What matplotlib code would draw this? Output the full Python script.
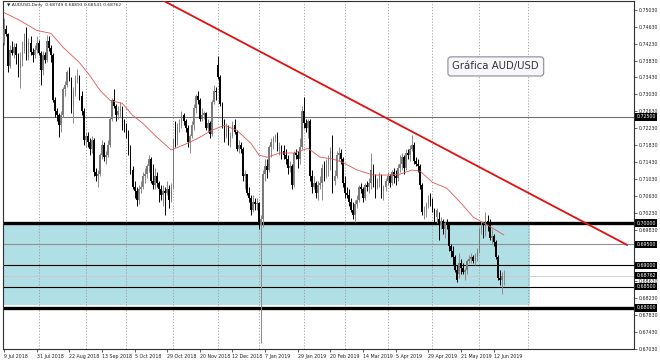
import numpy as np
import matplotlib
matplotlib.use("Agg")
import matplotlib.pyplot as plt
from matplotlib.patches import Rectangle
from matplotlib.transforms import blended_transform_factory

# AUD/USD daily candles, 9 Jul 2018 .. 19 Jun 2019, prices in 1e-4 units
opens = [
    7425, 7458, 7445, 7370, 7408, 7400, 7415, 7395, 7365, 7385,
    7405, 7445, 7392, 7425, 7402, 7395, 7408, 7425, 7400, 7360,
    7395, 7385, 7430, 7412, 7395, 7290, 7265, 7255, 7230, 7255,
    7315, 7325, 7355, 7340, 7275, 7310, 7340, 7345, 7300, 7265,
    7195, 7205, 7190, 7175, 7195, 7120, 7110, 7115, 7160, 7185,
    7155, 7160, 7185, 7245, 7290, 7275, 7255, 7265, 7270, 7230,
    7225, 7215, 7170, 7125, 7085, 7075, 7055, 7080, 7085, 7110,
    7115, 7135, 7150, 7100, 7090, 7110, 7095, 7080, 7065, 7075,
    7070, 7080, 7055, 7085, 7195, 7190, 7230, 7235, 7255, 7240,
    7225, 7190, 7205, 7230, 7270, 7300, 7290, 7245, 7255, 7260,
    7225, 7235, 7210, 7285, 7310, 7372, 7345, 7280, 7235, 7205,
    7225, 7190, 7205, 7230, 7215, 7175, 7185, 7175, 7110, 7115,
    7070, 7060, 7030, 7050, 7045, 7048, 6995, 7010, 7115, 7135,
    7125, 7180, 7190, 7200, 7205, 7175, 7180, 7170, 7160, 7150,
    7130, 7135, 7090, 7165, 7160, 7150, 7180, 7265, 7235, 7225,
    7240, 7110, 7085, 7095, 7070, 7090, 7095, 7130, 7110, 7140,
    7150, 7170, 7100, 7110, 7160, 7165, 7150, 7095, 7070, 7065,
    7050, 7030, 7020, 7045, 7055, 7085, 7080, 7060, 7090, 7085,
    7095, 7125, 7100, 7085, 7100, 7110, 7075, 7085, 7100, 7110,
    7095, 7120, 7110, 7105, 7130, 7140, 7155, 7130, 7165, 7160,
    7175, 7185, 7145, 7140, 7135, 7090, 7025, 7030, 7045, 7055,
    7050, 7030, 7015, 7010, 6995, 7005, 6985, 7000, 6995, 6945,
    6935, 6920, 6890, 6880, 6905, 6895, 6885, 6890, 6910, 6915,
    6920, 6910, 6920, 6935, 6985, 6990, 6980, 7005, 7000, 6965,
    6970, 6955, 6920, 6870, 6865, 6875,
]
highs = [
    7484, 7466, 7448, 7420, 7430, 7425, 7425, 7400, 7402, 7430,
    7448, 7462, 7435, 7440, 7412, 7420, 7440, 7432, 7405, 7405,
    7402, 7442, 7440, 7420, 7400, 7298, 7272, 7260, 7265, 7320,
    7335, 7360, 7368, 7345, 7320, 7350, 7363, 7350, 7310, 7270,
    7215, 7215, 7200, 7205, 7200, 7130, 7125, 7165, 7195, 7190,
    7170, 7195, 7250, 7295, 7315, 7280, 7275, 7285, 7275, 7245,
    7235, 7220, 7185, 7135, 7100, 7085, 7090, 7100, 7120, 7130,
    7140, 7160, 7155, 7140, 7130, 7120, 7100, 7090, 7090, 7085,
    7100, 7090, 7095, 7200, 7240, 7235, 7245, 7265, 7260, 7245,
    7230, 7210, 7240, 7280, 7305, 7310, 7295, 7270, 7265, 7262,
    7245, 7240, 7290, 7325, 7320, 7394, 7350, 7285, 7245, 7235,
    7230, 7215, 7240, 7245, 7220, 7195, 7190, 7180, 7125, 7115,
    7085, 7065, 7065, 7060, 7060, 7050, 7020, 7125, 7150, 7150,
    7185, 7200, 7205, 7210, 7215, 7190, 7185, 7185, 7175, 7160,
    7145, 7140, 7170, 7175, 7170, 7200, 7275, 7296, 7245, 7245,
    7245, 7125, 7110, 7100, 7100, 7110, 7140, 7145, 7150, 7160,
    7180, 7207, 7125, 7170, 7180, 7175, 7155, 7110, 7085, 7080,
    7060, 7050, 7055, 7065, 7090, 7095, 7085, 7095, 7100, 7105,
    7165, 7140, 7115, 7105, 7120, 7115, 7090, 7105, 7120, 7115,
    7125, 7130, 7125, 7140, 7160, 7165, 7160, 7175, 7175, 7185,
    7207, 7190, 7155, 7150, 7140, 7095, 7040, 7050, 7065, 7070,
    7060, 7035, 7035, 7025, 7015, 7010, 7005, 7010, 6998, 6950,
    6945, 6925, 6900, 6930, 6915, 6905, 6895, 6915, 6925, 6930,
    6925, 6930, 6940, 6990, 7005, 7000, 7025, 7020, 7010, 6985,
    6975, 6960, 6925, 6890, 6885, 6890,
]
lows = [
    7420, 7440, 7355, 7365, 7395, 7390, 7375, 7345, 7318, 7370,
    7400, 7385, 7385, 7395, 7380, 7388, 7400, 7395, 7325, 7350,
    7378, 7380, 7405, 7380, 7285, 7250, 7240, 7202, 7215, 7250,
    7300, 7320, 7335, 7260, 7235, 7300, 7330, 7290, 7255, 7185,
    7180, 7180, 7160, 7165, 7110, 7100, 7085, 7110, 7150, 7145,
    7140, 7155, 7180, 7240, 7270, 7240, 7245, 7250, 7220, 7215,
    7200, 7160, 7115, 7080, 7060, 7040, 7045, 7070, 7080, 7095,
    7105, 7120, 7095, 7080, 7080, 7085, 7050, 7055, 7040, 7020,
    7065, 7035, 7050, 7080, 7180, 7185, 7215, 7225, 7230, 7215,
    7180, 7165, 7200, 7220, 7260, 7280, 7240, 7240, 7245, 7220,
    7215, 7200, 7205, 7280, 7290, 7340, 7275, 7225, 7190, 7200,
    7185, 7180, 7200, 7210, 7170, 7165, 7165, 7100, 7080, 7065,
    7050, 7020, 7025, 7030, 7030, 6985, 6716, 6990, 7100, 7105,
    7120, 7155, 7175, 7190, 7170, 7160, 7150, 7150, 7140, 7115,
    7120, 7080, 7085, 7150, 7130, 7140, 7175, 7225, 7215, 7200,
    7100, 7070, 7080, 7060, 7055, 7080, 7055, 7100, 7105, 7110,
    7125, 7070, 7090, 7105, 7145, 7140, 7085, 7060, 7060, 7040,
    7025, 7010, 7003, 7035, 7050, 7070, 7050, 7055, 7075, 7070,
    7080, 7085, 7060, 7080, 7085, 7060, 7055, 7075, 7090, 7085,
    7090, 7095, 7090, 7100, 7120, 7125, 7115, 7125, 7150, 7145,
    7170, 7140, 7135, 7120, 7080, 7020, 7010, 7015, 7035, 7040,
    7025, 7000, 7000, 6960, 6985, 6975, 6965, 6985, 6935, 6920,
    6900, 6885, 6861, 6870, 6880, 6880, 6865, 6880, 6905, 6905,
    6905, 6900, 6910, 6930, 6975, 6965, 6970, 6980, 6960, 6950,
    6945, 6915, 6865, 6855, 6832, 6854,
]
closes = [
    7458, 7445, 7370, 7408, 7400, 7415, 7395, 7365, 7385, 7405,
    7445, 7392, 7425, 7402, 7395, 7408, 7425, 7400, 7360, 7395,
    7385, 7430, 7412, 7395, 7290, 7265, 7255, 7230, 7255, 7315,
    7325, 7355, 7340, 7275, 7310, 7340, 7345, 7300, 7265, 7195,
    7205, 7190, 7175, 7195, 7120, 7110, 7115, 7160, 7185, 7155,
    7160, 7185, 7245, 7290, 7275, 7255, 7265, 7270, 7230, 7225,
    7215, 7170, 7125, 7085, 7075, 7055, 7080, 7085, 7110, 7115,
    7135, 7150, 7100, 7090, 7110, 7095, 7080, 7065, 7075, 7070,
    7080, 7055, 7085, 7195, 7190, 7230, 7235, 7255, 7240, 7225,
    7190, 7205, 7230, 7270, 7300, 7290, 7245, 7255, 7260, 7225,
    7235, 7210, 7285, 7310, 7308, 7345, 7280, 7235, 7205, 7225,
    7190, 7205, 7230, 7215, 7175, 7185, 7175, 7110, 7115, 7070,
    7060, 7030, 7050, 7045, 7048, 6995, 7010, 7115, 7135, 7125,
    7180, 7190, 7200, 7205, 7175, 7180, 7170, 7160, 7150, 7130,
    7135, 7090, 7165, 7160, 7150, 7180, 7265, 7235, 7225, 7240,
    7110, 7085, 7095, 7070, 7090, 7095, 7130, 7110, 7140, 7150,
    7170, 7100, 7110, 7160, 7165, 7150, 7095, 7070, 7065, 7050,
    7030, 7020, 7045, 7055, 7085, 7080, 7060, 7090, 7085, 7095,
    7125, 7100, 7085, 7100, 7110, 7075, 7085, 7100, 7110, 7095,
    7120, 7110, 7105, 7130, 7140, 7155, 7130, 7165, 7160, 7175,
    7185, 7145, 7140, 7135, 7090, 7025, 7030, 7045, 7055, 7050,
    7030, 7015, 7030, 6995, 7005, 6985, 7000, 6995, 6945, 6935,
    6920, 6890, 6865, 6905, 6895, 6885, 6890, 6910, 6915, 6920,
    6910, 6920, 6935, 6985, 6990, 6980, 7005, 7000, 6965, 6970,
    6955, 6920, 6870, 6865, 6875, 6876,
]

# moving average at bar positions
ma_idx = [0, 8, 16, 23, 29, 37, 42, 47, 52, 58, 63, 68, 75, 82, 90, 96, 102,
          108, 114, 121, 125, 129, 135, 142, 149, 155, 161, 166, 173, 181,
          188, 194, 200, 204, 210, 217, 224, 230, 237, 245]
ma_val = [0.7496, 0.7477, 0.7454, 0.7447, 0.7414, 0.7378, 0.7348, 0.7313,
          0.7289, 0.7282, 0.7254, 0.7235, 0.7202, 0.7172, 0.7188, 0.7202,
          0.7219, 0.7230, 0.7219, 0.7188, 0.7160, 0.7155, 0.7165, 0.7165,
          0.7176, 0.7155, 0.7151, 0.7143, 0.7125, 0.7113, 0.7113, 0.7115,
          0.7125, 0.7122, 0.7096, 0.7082, 0.7047, 0.7014, 0.6995, 0.6972]

# drawn objects
trend_idx = [77.5, 305.4]
trend_val = [0.75257, 0.69484]
zone_top = 0.70000
zone_bottom = 0.68075
zone_end = 257.8
level_vals = [0.72500, 0.70000, 0.69500, 0.69000, 0.68500, 0.68000]
level_colors = ['#707070', 'black', '#909090', 'black', 'black', 'black']
level_widths = [0.8, 2.4, 0.8, 0.8, 0.8, 2.4]
bid = 0.68762

# axis texts
date_pos = [0, 16, 32, 48, 64, 80, 96, 112, 128, 144, 160, 176, 192, 208, 224, 240]
date_labels = ['9 Jul 2018', '31 Jul 2018', '22 Aug 2018', '13 Sep 2018',
               '5 Oct 2018', '29 Oct 2018', '20 Nov 2018', '12 Dec 2018',
               '7 Jan 2019', '29 Jan 2019', '20 Feb 2019', '14 Mar 2019',
               '5 Apr 2019', '29 Apr 2019', '21 May 2019', '12 Jun 2019']
month_starts = [17, 40, 60, 83, 105, 125, 147, 167, 188, 210, 233, 257]
# labels hidden behind the level boxes in the reference are left out
price_ticks = [0.75030, 0.74630, 0.74230, 0.73830, 0.73430, 0.73030, 0.72630,
               0.72230, 0.71830, 0.71430, 0.71030, 0.70630, 0.70230, 0.69830,
               0.68630, 0.68230, 0.67830, 0.67430, 0.67030]
box_vals = [0.72500, 0.70000, 0.69500, 0.69000, 0.68762, 0.68500, 0.68000]

o = np.array(opens) / 10000
h = np.array(highs) / 10000
l = np.array(lows) / 10000
c = np.array(closes) / 10000
idx = np.arange(len(o))
up = c >= o

fig = plt.figure(figsize=(6.6, 3.6), dpi=100)
ax = fig.add_axes([3 / 660, 11 / 360, 631 / 660, 348 / 360])
ax.set_xlim(-0.49, 308.8)
ax.set_ylim(0.67034, 0.75233)

# support zone
ax.add_patch(Rectangle((-5, zone_bottom), zone_end + 5, zone_top - zone_bottom,
                       facecolor='#b0dfe5', edgecolor='none', zorder=0))

# month grid
for m in month_starts:
    ax.axvline(m, color='#9a9a9a', lw=0.6, ls=(0, (1.5, 2)), zorder=1)

# horizontal levels
for v, col, w in zip(level_vals, level_colors, level_widths):
    ax.axhline(v, color=col, lw=w, zorder=2)
ax.axhline(bid, color='#c8c8c8', lw=0.6, zorder=2)

# candles
bull_col = '#7a7a7a'
ax.vlines(idx[up], l[up], h[up], color='#8a8a8a', lw=0.7, zorder=3)
ax.vlines(idx[~up], l[~up], h[~up], color='black', lw=0.7, zorder=3)
body_lo = np.minimum(o, c)
body_h = np.maximum(np.abs(c - o), 0.00008)
ax.bar(idx[up], body_h[up], bottom=body_lo[up], width=0.75,
       color=bull_col, edgecolor='none', zorder=4)
ax.bar(idx[~up], body_h[~up], bottom=body_lo[~up], width=0.75,
       color='black', edgecolor='none', zorder=4)

# moving average and trend line
ax.plot(ma_idx, ma_val, color='#e05555', lw=0.6, zorder=5)
ax.plot(trend_idx, trend_val, color='#e01010', lw=1.3, zorder=6)

# axes styling
for s in ax.spines.values():
    s.set_color('#303030')
    s.set_linewidth(0.8)
ax.yaxis.tick_right()
ax.set_yticks(price_ticks)
ax.set_yticklabels([f'{v:.5f}' for v in price_ticks])
ax.set_xticks(date_pos)
ax.set_xticklabels(date_labels, ha='left')
ax.tick_params(axis='y', labelsize=3.4, length=2, width=0.5, pad=1.5,
               colors='#202020')
ax.tick_params(axis='x', labelsize=3.4, length=2, width=0.5, pad=1.5,
               colors='#202020')

trans = blended_transform_factory(ax.transAxes, ax.transData)
for v in box_vals:
    ax.text(1.004, v, f'{v:.5f}', transform=trans, fontsize=3.4, color='white',
            va='center', ha='left', zorder=10,
            bbox=dict(boxstyle='square,pad=0.25', fc='black', ec='none'))

fig.text(7 / 660, 1 - 5 / 360,
         '\u25bc AUDUSD,Daily  0.68749 0.68893 0.68541 0.68762',
         fontsize=3.2, color='#202020', va='center', ha='left')

ax.text(0.781, 0.812, 'Gráfica AUD/USD', transform=ax.transAxes,
        fontsize=7.3, color='#333333', ha='center', va='center', zorder=12,
        bbox=dict(boxstyle='round,pad=0.45,rounding_size=0.3', fc='#f7f7fa',
                  ec='#8a8a9a', lw=0.8))

fig.savefig('out.png', dpi=100)
